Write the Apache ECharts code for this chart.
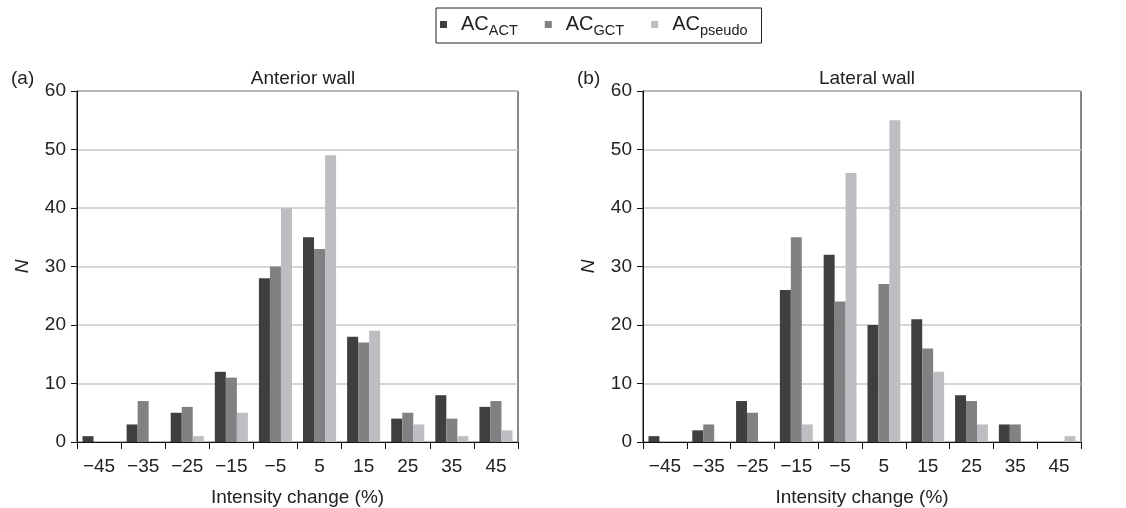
<!DOCTYPE html>
<html><head><meta charset="utf-8">
<script src="https://cdn.jsdelivr.net/npm/echarts@6/dist/echarts.min.js"></script>
<style>html,body{margin:0;padding:0;background:#fff}#c{width:1126px;height:508px}</style>
</head><body><div id="c"></div>
<script>
const categories = ['\u221245','\u221235','\u221225','\u221215','\u22125','5','15','25','35','45'];
const seriesNames = ['ACT','GCT','pseudo'];
const anteriorACT    = [1,3,5,12,28,35,18,4,8,6];
const anteriorGCT    = [0,7,6,11,30,33,17,5,4,7];
const anteriorPseudo = [0,0,1,5,40,49,19,3,1,2];
const lateralACT     = [1,2,7,26,32,20,21,8,3,0];
const lateralGCT     = [0,3,5,35,24,27,16,7,3,0];
const lateralPseudo  = [0,0,0,3,46,55,12,3,0,1];
const yTicks = [0,10,20,30,40,50,60];

const colors = ['#3f3f3f','#818184','#bdbec1'];
const font = 'Liberation Sans, Arial, sans-serif';
const fs = 19;
const chart = echarts.init(document.getElementById('c'));

function xAxis(gi){
  return {type:'category', gridIndex:gi, data:categories, boundaryGap:true,
    name:'Intensity change (%)', nameLocation:'middle', nameGap:46,
    nameTextStyle:{fontFamily:font,fontSize:fs,color:'#222'},
    axisLine:{lineStyle:{color:'#111',width:1}},
    axisTick:{show:true,length:7,lineStyle:{color:'#111'}},
    axisLabel:{fontFamily:font,fontSize:fs,color:'#222',margin:15,interval:0},
    splitLine:{show:false}};
}
function yAxis(gi){
  return {type:'value', gridIndex:gi, min:yTicks[0], max:yTicks[yTicks.length-1], interval:10,
    name:'N', nameLocation:'middle', nameGap:45, nameRotate:90,
    nameTextStyle:{fontFamily:font,fontSize:fs,fontStyle:'italic',color:'#222'},
    axisLine:{show:true,lineStyle:{color:'#111'}},
    axisTick:{show:true,length:6,lineStyle:{color:'#111'}},
    axisLabel:{fontFamily:font,fontSize:fs,color:'#222',margin:11},
    splitLine:{show:true,lineStyle:{color:'#c8c8c8',width:1.5}}};
}
function bar(name, data, gi, ci){
  return {type:'bar', name:name, xAxisIndex:gi, yAxisIndex:gi, data:data,
    barGap:'0%', barCategoryGap:'25%', itemStyle:{color:colors[ci]}, animation:false};
}
const tStyle = {fontFamily:font,fontSize:fs,fontWeight:'normal',color:'#222'};
chart.setOption({
  animation:false,
  title:[
    {text:'(a)', left:6, top:64, textStyle:tStyle},
    {text:'Anterior wall', left:298, top:64, textAlign:'center', textStyle:tStyle},
    {text:'(b)', left:572, top:64, textStyle:tStyle},
    {text:'Lateral wall', left:862, top:64, textAlign:'center', textStyle:tStyle}
  ],
  legend:{
    data:seriesNames, left:436, top:8, width:360,
    borderColor:'#222', borderWidth:1, padding:[4,14,5,4], itemGap:27,
    icon:'rect', itemWidth:7, itemHeight:7,
    formatter: n => '{a|AC}{s|' + n + '}',
    textStyle:{fontFamily:font,color:'#222',
      rich:{a:{fontFamily:font,fontSize:20,color:'#222',lineHeight:27,padding:[0,0,0,9]},
            s:{fontFamily:font,fontSize:14.5,color:'#222',verticalAlign:'bottom',lineHeight:27,padding:[11,0,0,0]}}}
  },
  grid:[
    {left:77, right:608, top:91, bottom:66, show:true, borderColor:'#111', borderWidth:1, containLabel:false, outerBoundsMode:'none'},
    {left:643, right:45, top:91, bottom:66, show:true, borderColor:'#111', borderWidth:1, containLabel:false, outerBoundsMode:'none'}
  ],
  xAxis:[xAxis(0), xAxis(1)],
  yAxis:[yAxis(0), yAxis(1)],
  series:[
    bar('ACT', anteriorACT, 0, 0), bar('GCT', anteriorGCT, 0, 1), bar('pseudo', anteriorPseudo, 0, 2),
    bar('ACT', lateralACT, 1, 0), bar('GCT', lateralGCT, 1, 1), bar('pseudo', lateralPseudo, 1, 2)
  ]
});
</script></body></html>
